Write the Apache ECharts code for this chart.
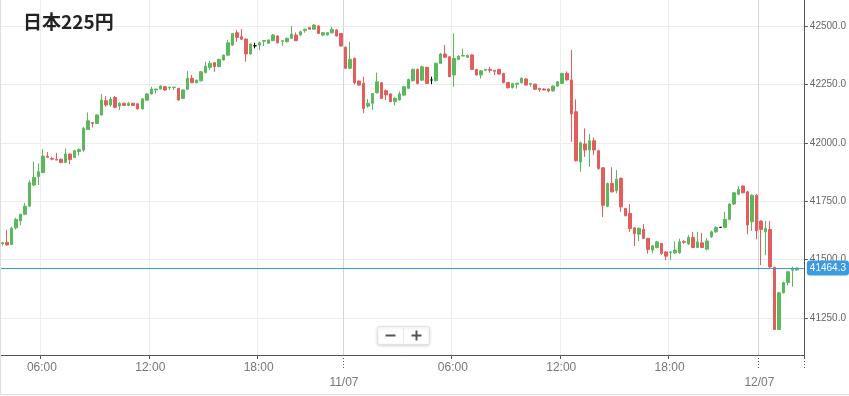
<!DOCTYPE html>
<html>
<head>
<meta charset="utf-8">
<script src="https://cdn.jsdelivr.net/npm/echarts@6/dist/echarts.min.js"></script>
<style>
html,body{margin:0;padding:0;background:#fff;}
#main{width:849px;height:396px;}
</style>
</head>
<body>
<div id="main"></div>
<script>
// ---- data ----
const chartTitle = '日本225円';
const sessionDates = ['10/07', '11/07', '12/07'];
const sessionStarts = ['03:45', '00:00', '00:00'];
const sessionEnds = ['22:30', '22:45', '02:15'];
const timeLabels = ['06:00', '12:00', '18:00'];
const yTicks = [41250, 41500, 41750, 42000, 42250, 42500];
const yMin = 41092, yMax = 42611;

const opens = [41568,41574,41565,41636,41666,41694,41729,41819,41855,41872,41943,41933,41929,41930,41916,41952,41937,41963,41969,42057,
42087,42083,42119,42180,42162,42194,42157,42169,42160,42169,42167,42145,42182,42209,42226,42230,42240,42235,42236,42233,
42190,42229,42276,42257,42265,42300,42323,42343,42326,42354,42375,42418,42471,42454,42444,42380,42415,42418,42435,42426,
42437,42457,42434,42432,42447,42461,42461,42480,42494,42486,42500,42461,42462,42471,42483,42468,42409,42319,42361,42264,
42254,42157,42169,42214,42257,42223,42209,42176,42183,42204,42233,42266,42314,42268,42323,42269,42266,42340,42380,42368,
42290,42357,42371,42366,42376,42314,42290,42310,42314,42310,42314,42297,42258,42236,42251,42257,42273,42250,42251,42232,
42230,42230,42222,42243,42254,42297,42269,42133,41919,41995,41969,42009,41966,41893,41728,41826,41795,41848,41719,41698,
41636,41609,41629,41591,41541,41552,41569,41533,41530,41529,41529,41578,41567,41595,41552,41572,41545,41598,41619,41638,
41638,41672,41738,41780,41815,41790,41662,41776,41665,41619,41629,41467,41201,41358,41402,41455,41456];
const closes = [41572,41563,41634,41672,41694,41729,41829,41852,41876,41943,41938,41930,41926,41916,41952,41929,41966,41971,42062,42094,
42083,42119,42183,42162,42187,42152,42169,42160,42169,42160,42145,42188,42209,42230,42230,42243,42226,42238,42238,42183,
42226,42276,42257,42268,42304,42328,42340,42326,42357,42375,42428,42468,42451,42443,42380,42423,42415,42428,42438,42440,
42461,42428,42437,42447,42465,42437,42475,42486,42486,42504,42468,42471,42471,42486,42457,42414,42319,42357,42257,42247,
42147,42169,42211,42261,42190,42205,42176,42190,42209,42240,42271,42314,42254,42325,42254,42269,42340,42380,42366,42283,
42361,42371,42374,42374,42314,42290,42308,42314,42310,42306,42294,42257,42236,42254,42255,42276,42247,42254,42229,42228,
42226,42222,42243,42261,42297,42269,42123,41923,42000,41969,42009,41969,41890,41733,41826,41790,41844,41726,41688,41633,
41612,41634,41591,41544,41559,41576,41526,41515,41533,41541,41576,41574,41595,41552,41576,41552,41580,41619,41638,41638,
41672,41738,41786,41800,41786,41648,41776,41623,41629,41634,41469,41201,41358,41402,41448,41461,41464.3];
const lows = [41560,41560,41562,41630,41648,41690,41727,41815,41819,41870,41937,41925,41926,41912,41914,41909,41935,41945,41962,42055,
42066,42080,42117,42154,42154,42147,42140,42158,42156,42157,42143,42143,42180,42207,42210,42228,42222,42226,42226,42181,
42188,42225,42255,42255,42263,42298,42311,42304,42323,42352,42373,42415,42432,42440,42347,42377,42404,42397,42414,42424,
42435,42425,42414,42430,42445,42435,42458,42471,42484,42484,42466,42456,42458,42468,42455,42412,42317,42315,42250,42245,
42126,42150,42140,42211,42187,42183,42174,42160,42180,42200,42230,42262,42250,42264,42252,42251,42262,42338,42363,42280,
42240,42354,42370,42363,42312,42287,42275,42306,42300,42290,42292,42255,42232,42233,42232,42254,42245,42240,42227,42218,
42224,42216,42219,42240,42252,42266,42004,41920,41876,41940,41897,41947,41885,41683,41724,41787,41784,41705,41685,41619,
41558,41579,41588,41526,41526,41548,41520,41498,41498,41525,41525,41568,41563,41550,41550,41550,41540,41593,41615,41636,
41634,41668,41734,41776,41783,41609,41623,41587,41477,41519,41465,41199,41199,41355,41390,41384,41453];
const highs = [41576,41626,41641,41679,41697,41743,41840,41919,41912,41972,41960,41940,41957,41932,41976,41955,41970,41976,42069,42130,
42088,42122,42209,42200,42196,42200,42174,42172,42174,42171,42169,42190,42212,42240,42231,42246,42243,42239,42239,42235,
42228,42307,42290,42270,42307,42347,42351,42345,42360,42378,42440,42470,42483,42487,42447,42426,42428,42433,42438,42442,
42465,42460,42437,42450,42500,42472,42480,42489,42495,42508,42503,42474,42473,42496,42486,42470,42412,42432,42365,42266,
42283,42187,42213,42300,42260,42228,42213,42197,42220,42242,42275,42318,42318,42330,42325,42283,42343,42384,42418,42371,
42468,42375,42403,42378,42378,42316,42311,42316,42324,42312,42317,42299,42260,42256,42256,42280,42276,42256,42253,42236,
42234,42233,42245,42264,42300,42305,42397,42186,42005,42062,42037,42023,41970,41895,41830,41895,41883,41851,41722,41738,
41640,41638,41652,41593,41562,41580,41572,41536,41535,41579,41590,41583,41605,41619,41619,41615,41592,41625,41642,41640,
41705,41742,41790,41815,41818,41795,41780,41780,41668,41666,41666,41470,41362,41406,41452,41470,41467];

// ---- categories (15-minute slots of each trading session) ----
function toMin(s){ const p = s.split(':'); return (+p[0]) * 60 + (+p[1]); }
function pad(n){ return (n < 10 ? '0' : '') + n; }
const categories = [];
sessionDates.forEach(function (d, k) {
  for (let m = toMin(sessionStarts[k]); m <= toMin(sessionEnds[k]); m += 15) {
    categories.push(d + ' ' + pad(Math.floor(m / 60)) + ':' + pad(m % 60));
  }
});
const candleData = opens.map(function (o, i) { return [o, closes[i], lows[i], highs[i]]; });
const lastPrice = closes[closes.length - 1];

const isTime = function (i, v) { return timeLabels.indexOf(v.slice(6)) >= 0; };
const isDate = function (i, v) { return v.slice(6) === '00:00'; };

const UP = '#5cb85c', DOWN = '#e35d5d', BLUE = '#3a9be0';
const AX = '#555';

const chart = echarts.init(document.getElementById('main'), null, {renderer: 'canvas'});
chart.setOption({
  animation: false,
  backgroundColor: '#fff',
  title: {
    text: chartTitle, left: 18, top: 7,
    textStyle: {fontSize: 19, fontWeight: 'bold', color: '#222', fontFamily: '"Noto Sans CJK JP", "Noto Sans", sans-serif'}
  },
  grid: {left: 0, right: 42, top: 0, bottom: 41, containLabel: false},
  xAxis: [{
    type: 'category', data: categories, boundaryGap: true,
    axisLine: {lineStyle: {color: AX, width: 1}},
    axisTick: {show: true, interval: isTime, length: 4, lineStyle: {color: AX}},
    axisLabel: {interval: isTime, formatter: function (v) { return v.slice(6); },
      color: '#777', fontSize: 12, margin: 7, padding: [0, 2, 0, 0], fontFamily: 'Arial, "Liberation Sans", sans-serif'},
    splitLine: {show: true, interval: isTime, lineStyle: {color: '#ececec', width: 1}}
  }, {
    type: 'category', data: categories, boundaryGap: true, position: 'bottom', gridIndex: 0,
    axisLine: {show: false},
    axisTick: {show: true, interval: isDate, length: 14, lineStyle: {color: AX, type: [1, 2]}},
    axisLabel: {interval: isDate, formatter: function (v) { return v.slice(0, 5); },
      color: '#777', fontSize: 12, margin: 22, padding: [0, 3, 0, 0], fontFamily: 'Arial, "Liberation Sans", sans-serif'},
    splitLine: {show: true, interval: isDate, lineStyle: {color: '#d4d4d4', width: 1}}
  }],
  yAxis: {
    type: 'value', position: 'right', min: yMin, max: yMax, scale: true,
    axisLine: {show: true, lineStyle: {color: AX, width: 1}},
    axisTick: {show: true, length: 4, customValues: yTicks, lineStyle: {color: AX}},
    axisLabel: {customValues: yTicks, formatter: function (v) { return v.toFixed(1); },
      color: '#666', fontSize: 10, margin: 6, fontFamily: 'Arial, "Liberation Sans", sans-serif'},
    splitLine: {show: true, lineStyle: {color: '#ececec', width: 1}}
  },
  series: [{
    type: 'candlestick', xAxisIndex: 0, data: candleData, barWidth: 3,
    itemStyle: {color: UP, color0: DOWN, borderColor: UP, borderColor0: DOWN, borderColorDoji: '#000', borderWidth: 1},
    markLine: {
      silent: true, symbol: ['none', 'none'], animation: false,
      lineStyle: {color: BLUE, width: 1, type: 'solid'},
      label: {show: true, position: 'end', distance: 3, formatter: function () { return lastPrice.toFixed(1); },
        color: '#fff', backgroundColor: BLUE, borderRadius: 3, padding: [3, 3, 2, 3], fontSize: 10,
        fontFamily: 'Arial, "Liberation Sans", sans-serif'},
      data: [{yAxis: lastPrice}]
    }
  }],
  graphic: [
    {type: 'line', shape: {x1: 0.5, y1: 0, x2: 0.5, y2: 395}, style: {stroke: '#ddd', lineWidth: 1}, z: 10},
    {type: 'line', shape: {x1: 0, y1: 394.5, x2: 849, y2: 394.5}, style: {stroke: '#ddd', lineWidth: 1}, z: 10},
    {type: 'group', left: 377, top: 325, z: 20, children: [
      {type: 'rect', shape: {x: 0, y: 0, width: 52, height: 18, r: 2},
        style: {fill: '#fff', stroke: '#e2e2e2', lineWidth: 1, shadowBlur: 3, shadowColor: 'rgba(0,0,0,0.15)', shadowOffsetY: 1}},
      {type: 'line', shape: {x1: 26, y1: 1, x2: 26, y2: 17}, style: {stroke: '#e6e6e6', lineWidth: 1}},
      {type: 'rect', shape: {x: 8, y: 8, width: 10, height: 2}, style: {fill: '#555'}},
      {type: 'rect', shape: {x: 34, y: 8, width: 10, height: 2}, style: {fill: '#555'}},
      {type: 'rect', shape: {x: 38, y: 4, width: 2, height: 10}, style: {fill: '#555'}}
    ]}
  ]
});
</script>
</body>
</html>
